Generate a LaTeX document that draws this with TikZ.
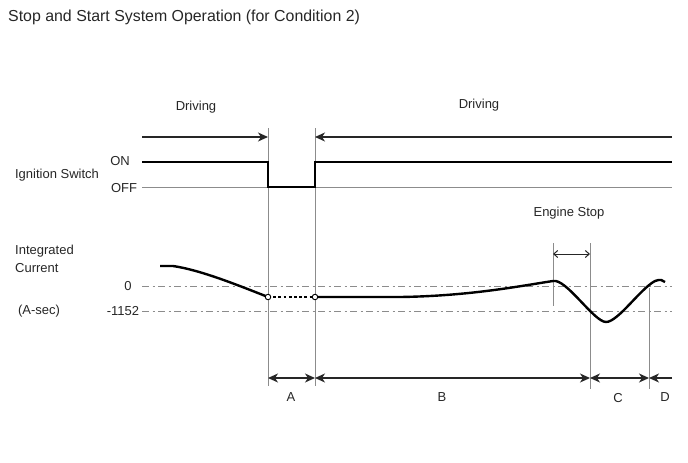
\documentclass[tikz,border=0pt]{standalone}
\usepackage{fontspec}
\setmainfont{Liberation Sans}
\usetikzlibrary{arrows.meta}
\begin{document}
\begin{tikzpicture}[x=1pt,y=-1pt,
  every node/.style={font=\fontsize{13}{15}\selectfont, text=black!85, inner sep=0pt},
  thinline/.style={draw=black!45, line width=0.9pt},
  sigline/.style={draw=black, line width=2.6pt},
  dashdot/.style={draw=black!45, line width=1pt, dash pattern=on 7pt off 3.5pt on 2pt off 3.5pt},
  dimarrow/.style={draw=black!85, line width=1.3pt, -{Stealth[length=10pt,width=9pt,inset=3pt]}},
  dimboth/.style={draw=black!85, line width=1.3pt, {Stealth[length=10pt,width=9pt,inset=3pt]}-{Stealth[length=10pt,width=9pt,inset=3pt]}},
  smallboth/.style={draw=black!85, line width=1pt, {Straight Barb[length=4pt,width=7pt]}-{Straight Barb[length=4pt,width=7pt]}},
  opendot/.style={circle, draw=black, fill=white, line width=0.9pt, minimum size=5.5pt, inner sep=0pt}
]
\useasboundingbox (0,0) rectangle (688,463);

% texts
\node[anchor=west, font=\fontsize{15.9}{18}\selectfont] (title) at (8,17) {Stop and Start System Operation (for Condition 2)};
\node (drv1) at (196,107) {Driving};
\node (drv2) at (479,105) {Driving};
\node (ign) at (57,175) {Ignition Switch};
\node (on) at (120,161) {ON};
\node (off) at (124,188) {OFF};
\node[anchor=west] (intg) at (15,251) {Integrated};
\node[anchor=west] (curr) at (15,268) {Current};
\node (zero) at (128,286) {0};
\node (val) at (123,311) {-1152};
\node (asec) at (39,311) {(A-sec)};
\node (estop) at (569,213) {Engine Stop};
\node (lA) at (291,397) {A};
\node (lB) at (442,397) {B};
\node (lC) at (618,398) {C};
\node (lD) at (665,397) {D};

% coordinates
\coordinate (v1t) at (268,128); \coordinate (v1b) at (268,386);
\coordinate (v2t) at (315,128); \coordinate (v2b) at (315,386);
\coordinate (v3t) at (590,243); \coordinate (v3b) at (590,389);
\coordinate (v4t) at (649,288); \coordinate (v4b) at (649,389);
\coordinate (v5t) at (553,243); \coordinate (v5b) at (553,306);

% vertical guides
\draw[thinline] (v1t) -- (v1b);
\draw[thinline] (v2t) -- (v2b);
\draw[thinline] (v3t) -- (v3b);
\draw[thinline] (v4t) -- (v4b);
\draw[thinline] (v5t) -- (v5b);

% OFF level line
\coordinate (offL) at (142,187); \coordinate (offR) at (672,187);
\draw[thinline] (offL) -- (offR);

% dash-dot levels
\coordinate (z0L) at (142,286); \coordinate (z0R) at (672,286);
\coordinate (z1L) at (142,311); \coordinate (z1R) at (672,311);
\draw[dashdot] (z0L) -- (z0R);
\draw[dashdot] (z1L) -- (z1R);

% driving arrows
\coordinate (d1L) at (142,137); \coordinate (d1R) at (268,137);
\coordinate (d2L) at (315,137); \coordinate (d2R) at (672,137);
\draw[dimarrow] (d1L) -- (d1R);
\draw[dimarrow] (d2R) -- (d2L);

% ignition signal
\coordinate (s0) at (142,162); \coordinate (s1) at (268,162);
\coordinate (s2) at (268,187); \coordinate (s3) at (315,187);
\coordinate (s4) at (315,162); \coordinate (s5) at (672,162);
\draw[sigline, line join=miter] (s0) -- (s1) -- (s2) -- (s3) -- (s4) -- (s5);

% integrated current curve
\coordinate (c0) at (160,266);
\coordinate (c1) at (173,266);
\coordinate (p1) at (268,297);
\coordinate (p2) at (315,297);
\coordinate (c2) at (400,297);
\draw[sigline, line width=2.4pt] (c0) -- (c1) .. controls (200,270) and (235,284) .. (p1);
\draw[line width=2.8pt, dash pattern=on 2.8pt off 2.4pt] (p1) -- (p2);
\draw[sigline, line width=2.4pt] (p2) -- (c2) .. controls (470,296) and (520,286) .. (553,281)
   .. controls (566,278) and (594,322) .. (606,322)
   .. controls (618,322) and (640,289) .. (655,281)
   .. controls (660,279) and (663,280) .. (665,282);
\node[opendot] (o1) at (p1) {};
\node[opendot] (o2) at (p2) {};

% engine stop arrow
\coordinate (e1) at (553,254); \coordinate (e2) at (590,254);
\draw[smallboth] (e1) -- (e2);

% bottom interval arrows
\coordinate (bA) at (268,378); \coordinate (bB) at (315,378);
\coordinate (bC) at (590,378); \coordinate (bD) at (649,378);
\coordinate (bE) at (672,378);
\draw[dimboth] (bA) -- (bB);
\draw[dimboth] (bB) -- (bC);
\draw[dimboth] (bC) -- (bD);
\draw[dimarrow] (bE) -- (bD);
\end{tikzpicture}
\end{document}
